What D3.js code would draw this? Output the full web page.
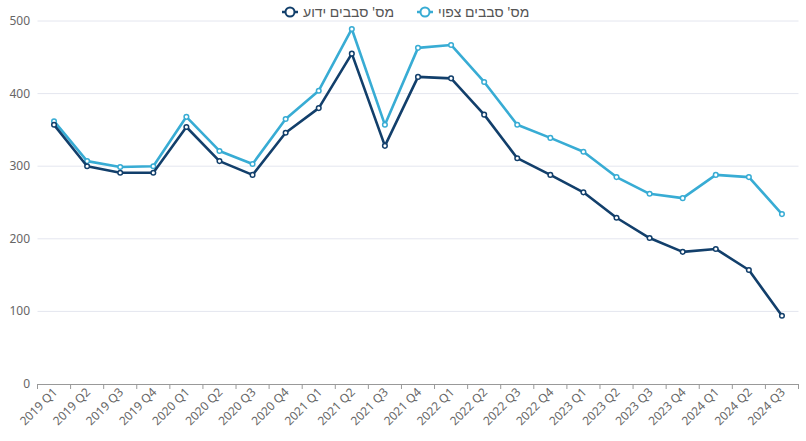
<!DOCTYPE html>
<html><head><meta charset="utf-8">
<script src="https://cdn.jsdelivr.net/npm/d3@7"></script>
<style>body{margin:0;background:#fff;font-family:"Noto Sans",sans-serif}</style>
</head><body><svg id="c" width="806" height="441"></svg>
<script>
const categories = ["2019 Q1","2019 Q2","2019 Q3","2019 Q4","2020 Q1","2020 Q2","2020 Q3","2020 Q4","2021 Q1","2021 Q2","2021 Q3","2021 Q4","2022 Q1","2022 Q2","2022 Q3","2022 Q4","2023 Q1","2023 Q2","2023 Q3","2023 Q4","2024 Q1","2024 Q2","2024 Q3"];
const knownValues = [357,300,291,291,354,307,288,346,380,455,328,423,421,371,311,288,264,229,201,182,186,157,94];
const expectedValues = [362,307,299,300,368,321,303,365,404,489,357,463,467,416,357,339,320,285,262,256,288,285,234];
const yTicks = [0,100,200,300,400,500];
const seriesNames = ["מס' סבבים ידוע","מס' סבבים צפוי"];
const seriesColors = ["#123f6b","#38acd4"];

const svg = d3.select("#c");
const x = d3.scaleBand().domain(categories).range([37.5, 798.5]);
const y = d3.scaleLinear().domain([0,500]).range([384, 21]);

// grid
svg.append("g").selectAll("line").data(yTicks.filter(d=>d>0)).join("line")
  .attr("x1",37.5).attr("x2",798.5).attr("y1",d=>y(d)).attr("y2",d=>y(d))
  .attr("stroke","#e4e6ef").attr("stroke-width",1);

// y labels
svg.append("g").selectAll("text").data(yTicks).join("text")
  .attr("x",30).attr("y",d=>y(d)+4).attr("text-anchor","end")
  .attr("font-size",12).attr("fill","#666").text(d=>d);

// x axis
const xa = svg.append("g").attr("transform","translate(0,384)")
  .call(d3.axisBottom(x).tickSize(0).tickFormat(""));
xa.select(".domain").attr("stroke","#999").attr("d","M37.5,0.5H798.5");
const bounds = categories.map(c=>x(c)).concat([x.range()[1]]);
xa.selectAll(".bt").data(bounds).join("line").attr("class","bt")
  .attr("x1",d=>d).attr("x2",d=>d).attr("y1",0).attr("y2",5).attr("stroke","#999");
svg.append("g").selectAll("text").data(categories).join("text")
  .attr("transform",d=>`translate(${x(d)+x.bandwidth()/2+4},393) rotate(-45)`)
  .attr("text-anchor","end").attr("font-size",12).attr("fill","#666").text(d=>d);

const cx = d => x(d)+x.bandwidth()/2;
const data = [knownValues, expectedValues];
// draw expected first then known
[1,0].forEach(i=>{
  const vals = data[i];
  const line = d3.line().x((d,j)=>cx(categories[j])).y(d=>y(d));
  svg.append("path").datum(vals).attr("d",line).attr("fill","none")
    .attr("stroke",seriesColors[i]).attr("stroke-width",2.6).attr("stroke-linejoin","round");
  svg.append("g").selectAll("circle").data(vals).join("circle")
    .attr("cx",(d,j)=>cx(categories[j])).attr("cy",d=>y(d)).attr("r",2.3)
    .attr("fill","#fff").attr("stroke",seriesColors[i]).attr("stroke-width",1.5);
});

// legend
const leg = [{name:seriesNames[0],color:seriesColors[0],x:290},{name:seriesNames[1],color:seriesColors[1],x:425}];
leg.forEach(l=>{
  const g = svg.append("g");
  g.append("line").attr("x1",l.x-8).attr("x2",l.x+8).attr("y1",12).attr("y2",12)
    .attr("stroke",l.color).attr("stroke-width",2.5);
  g.append("circle").attr("cx",l.x).attr("cy",12).attr("r",4.5).attr("fill","#fff")
    .attr("stroke",l.color).attr("stroke-width",2);
  g.append("text").attr("x",l.x+13).attr("y",17).attr("font-size",14).attr("fill","#555")
    .attr("direction","rtl").attr("text-anchor","end").text(l.name);
});
</script></body></html>
